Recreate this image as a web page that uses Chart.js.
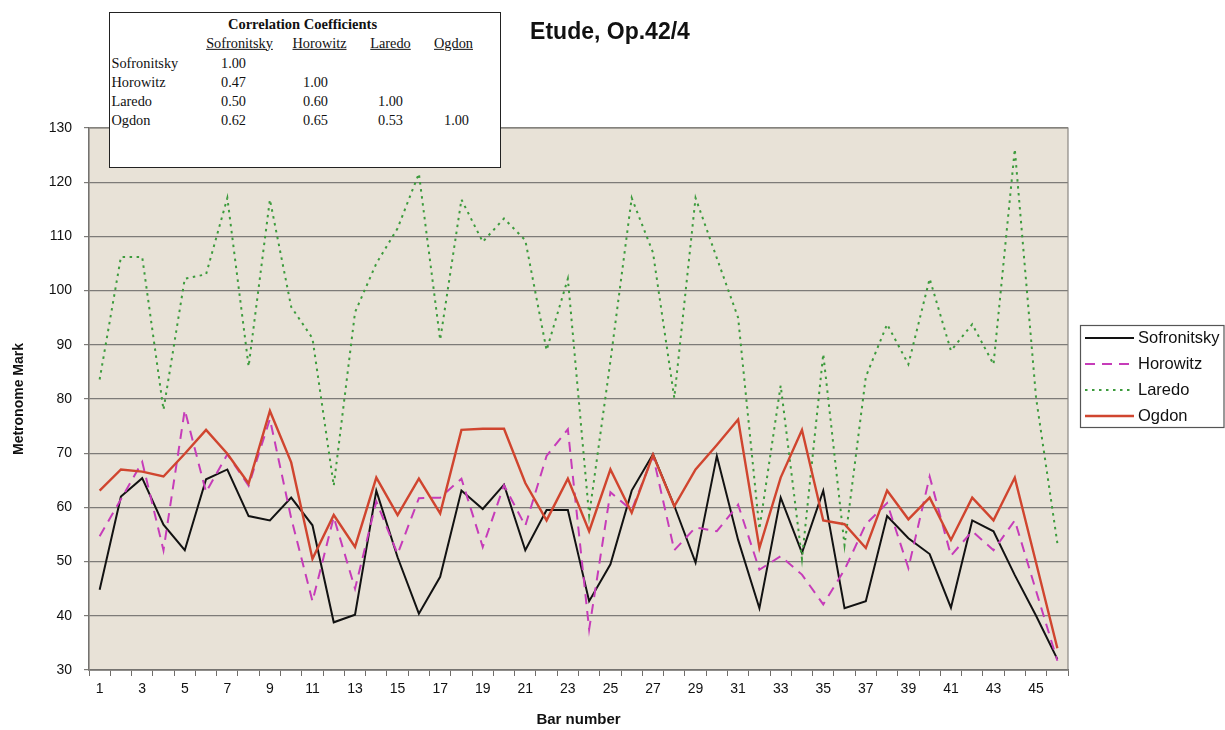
<!DOCTYPE html>
<html>
<head>
<meta charset="utf-8">
<title>Etude, Op.42/4</title>
<script src="https://cdn.jsdelivr.net/npm/chart.js@4.4.1/dist/chart.umd.min.js"></script>
<style>
  html, body { margin: 0; padding: 0; background: #fff; }
  #wrap { position: relative; width: 1225px; height: 730px; overflow: hidden; }
  #chart { position: absolute; left: 0; top: 0; }
  #corr {
    position: absolute; left: 109px; top: 12px; width: 392px; height: 156px;
    box-sizing: border-box; background: #fff; border: 1.5px solid #222;
    font-family: "Liberation Serif", "Times New Roman", serif; font-size: 14.3px; color: #111;
  }
  #corr .c { position: absolute; white-space: nowrap; transform: translate(-50%, -50%); line-height: 1; }
  #corr .l { position: absolute; white-space: nowrap; transform: translateY(-50%); line-height: 1; }
  #corr .h { text-decoration: underline; }
  #corr .ttl { font-weight: bold; font-size: 14.5px; }
</style>
</head>
<body>
<div id="wrap">
  <canvas id="chart" width="1225" height="730"></canvas>
  <div id="corr"></div>
</div>
<script>
// Bar numbers of the etude (x categories)
const barNumbers = ['1','2','3','4','5','6','7','8','9','10','11','12','13','14','15','16',
  '17','18','19','20','21','22','23','24','25','26','27','28','29','30','31','32','33','34',
  '35','36','37','38','39','40','41','42','43','44','45','46'];

// Metronome mark per bar, one array per pianist
const sofronitsky = [44.8, 62.0, 65.4, 56.8, 52.1, 65.2, 67.0, 58.4, 57.6, 61.8,
  56.7, 38.8, 40.2, 63.1, 50.8, 40.4, 47.2, 63.1, 59.7, 64.2,
  52.1, 59.5, 59.5, 42.7, 49.5, 63.1, 69.8, 60.3, 49.8, 69.5,
  54.0, 41.4, 61.8, 51.6, 63.1, 41.4, 42.7, 58.4, 54.3, 51.4,
  41.5, 57.6, 55.6, 47.5, 40.0, 32.0];
const horowitz = [54.7, 61.5, 68.4, 52.1, 78.0, 62.8, 69.8, 64.0, 76.3, 58.0,
  42.7, 58.2, 45.0, 61.1, 51.4, 61.7, 61.8, 65.3, 52.7, 64.1,
  56.6, 69.5, 74.4, 37.5, 62.8, 59.5, 69.5, 52.1, 56.3, 55.6,
  60.5, 48.5, 51.0, 47.6, 42.1, 48.5, 56.9, 60.8, 48.8, 65.7,
  51.1, 55.6, 52.1, 57.6, 44.6, 31.7];
const laredo = [83.6, 106.2, 106.2, 78.0, 102.2, 103.0, 117.1, 86.0, 116.8, 97.0,
  91.2, 64.0, 96.0, 105.0, 111.5, 121.6, 90.9, 116.8, 109.0, 113.3,
  109.3, 89.0, 102.2, 58.5, 87.0, 117.1, 107.0, 80.2, 117.1, 106.0,
  95.0, 56.0, 82.5, 50.5, 88.3, 53.0, 84.1, 93.8, 86.4, 102.2,
  88.9, 93.8, 86.4, 126.1, 80.2, 53.4];
const ogdon = [63.1, 67.0, 66.6, 65.7, 69.9, 74.3, 69.9, 64.4, 77.8, 68.3,
  50.5, 58.6, 52.7, 65.5, 58.6, 65.3, 58.9, 74.3, 74.5, 74.5,
  64.5, 57.6, 65.3, 55.6, 67.0, 59.0, 69.7, 60.2, 67.0, 71.5,
  76.2, 52.5, 65.5, 74.3, 57.6, 56.9, 52.5, 63.1, 57.8, 61.8,
  54.0, 61.8, 57.6, 65.5, 49.8, 34.0];

// Correlation coefficients between the four performances (lower triangle)
const corrPlayers = ['Sofronitsky', 'Horowitz', 'Laredo', 'Ogdon'];
const corrValues = [
  [1.00],
  [0.47, 1.00],
  [0.50, 0.60, 1.00],
  [0.62, 0.65, 0.53, 1.00]
];

// ---- correlation table box ----
(function buildTable() {
  const box = document.getElementById('corr');
  const ox = 110.5, oy = 13.5;               // inner origin of the box on the page
  const headerX = [240, 320, 391, 454];
  const cellX = [234, 316, 391, 457];
  const rowY = [63, 82, 101, 120];
  function put(cls, text, x, y) {
    const d = document.createElement('div');
    d.className = cls;
    d.textContent = text;
    d.style.left = (x - ox) + 'px';
    d.style.top = (y - oy) + 'px';
    box.appendChild(d);
  }
  put('c ttl', 'Correlation Coefficients', 303, 24);
  corrPlayers.forEach((p, i) => put('c h', p, headerX[i], 43));
  corrPlayers.forEach((p, r) => {
    put('l', p, 112, rowY[r]);
    corrValues[r].forEach((v, c) => put('c', v.toFixed(2), cellX[c], rowY[r]));
  });
})();

// ---- chart ----
const FONT = '"Liberation Sans", Arial, sans-serif';
const AXIS_GREY = '#6f6d6a';

const plotFrame = {
  id: 'plotFrame',
  beforeDraw(chart) {
    const { ctx, chartArea: a } = chart;
    ctx.save();
    ctx.fillStyle = '#e8e2d7';
    ctx.fillRect(a.left, a.top, a.right - a.left, a.bottom - a.top);
    ctx.restore();
  },
  beforeDatasetsDraw(chart) {
    const { ctx, chartArea: a } = chart;
    ctx.save();
    ctx.strokeStyle = '#8a8782';
    ctx.lineWidth = 1.2;
    ctx.strokeRect(a.left, a.top, a.right - a.left, a.bottom - a.top);
    ctx.restore();
  }
};

const titleAndLegend = {
  id: 'titleAndLegend',
  afterDraw(chart) {
    const ctx = chart.ctx;
    ctx.save();
    // chart title
    ctx.fillStyle = '#111';
    ctx.font = 'bold 23px ' + FONT;
    ctx.textAlign = 'center';
    ctx.textBaseline = 'middle';
    ctx.fillText('Etude, Op.42/4', 610, 33);

    // legend box
    const bx = 1080, by = 325, bw = 145, bh = 102;
    ctx.fillStyle = '#fff';
    ctx.fillRect(bx, by, bw, bh);
    ctx.strokeStyle = '#555';
    ctx.lineWidth = 1.2;
    ctx.strokeRect(bx + 0.5, by + 0.5, bw - 1.5, bh);
    ctx.font = '16.5px ' + FONT;
    ctx.textAlign = 'left';
    ctx.textBaseline = 'middle';
    chart.data.datasets.forEach((ds, i) => {
      const y = by + 13 + i * 26;
      ctx.save();
      ctx.strokeStyle = ds.borderColor;
      ctx.lineWidth = ds.borderWidth;
      ctx.setLineDash(ds.borderDash || []);
      ctx.beginPath();
      ctx.moveTo(bx + 5, y);
      ctx.lineTo(bx + 54, y);
      ctx.stroke();
      ctx.restore();
      ctx.fillStyle = '#111';
      ctx.fillText(ds.label, bx + 58, y + 0.5);
    });
    ctx.restore();
  }
};

new Chart(document.getElementById('chart'), {
  type: 'line',
  data: {
    labels: barNumbers,
    datasets: [
      { label: 'Sofronitsky', data: sofronitsky, borderColor: '#121212', borderWidth: 2, order: 3 },
      { label: 'Horowitz', data: horowitz, borderColor: '#c63cb9', borderWidth: 2, borderDash: [10, 7], order: 2 },
      { label: 'Laredo', data: laredo, borderColor: '#3d9b3d', borderWidth: 2, borderDash: [2.5, 4.5], order: 1 },
      { label: 'Ogdon', data: ogdon, borderColor: '#d0452f', borderWidth: 2.4, order: 0 }
    ]
  },
  options: {
    responsive: false,
    animation: false,
    devicePixelRatio: 1,
    layout: { padding: { top: 128, right: 157, left: 0, bottom: 0 } },
    elements: {
      point: { radius: 0, hoverRadius: 0 },
      line: { tension: 0, fill: false, borderCapStyle: 'butt', borderJoinStyle: 'miter' }
    },
    plugins: {
      legend: { display: false },
      title: { display: false },
      tooltip: { enabled: false }
    },
    scales: {
      x: {
        type: 'category',
        offset: true,
        afterFit(scale) { scale.height = 60; },
        grid: {
          offset: true, drawOnChartArea: false, drawTicks: true,
          tickLength: 6, color: AXIS_GREY, lineWidth: 1
        },
        border: { display: true, color: '#555', width: 1.5 },
        ticks: {
          autoSkip: false, maxRotation: 0, minRotation: 0, padding: 5,
          color: '#111', font: { family: FONT, size: 14 },
          callback(value, index) { return index % 2 === 0 ? barNumbers[index] : ''; }
        },
        title: {
          display: true, text: 'Bar number', color: '#111',
          font: { family: FONT, size: 15, weight: 'bold' },
          padding: { top: 0, bottom: 1 }
        }
      },
      y: {
        min: 30,
        max: 130,
        afterFit(scale) { scale.width = 89; },
        grid: { color: '#7d7b78', lineWidth: 1.2, drawTicks: true, tickLength: 5 },
        border: { display: true, color: '#555', width: 1.2 },
        ticks: {
          stepSize: 10, padding: 12, color: '#111',
          font: { family: FONT, size: 14 }
        },
        title: {
          display: true, text: 'Metronome Mark', color: '#111',
          font: { family: FONT, size: 14, weight: 'bold' },
          padding: { top: 11, bottom: 0 }
        }
      }
    }
  },
  plugins: [plotFrame, titleAndLegend]
});
</script>
</body>
</html>
